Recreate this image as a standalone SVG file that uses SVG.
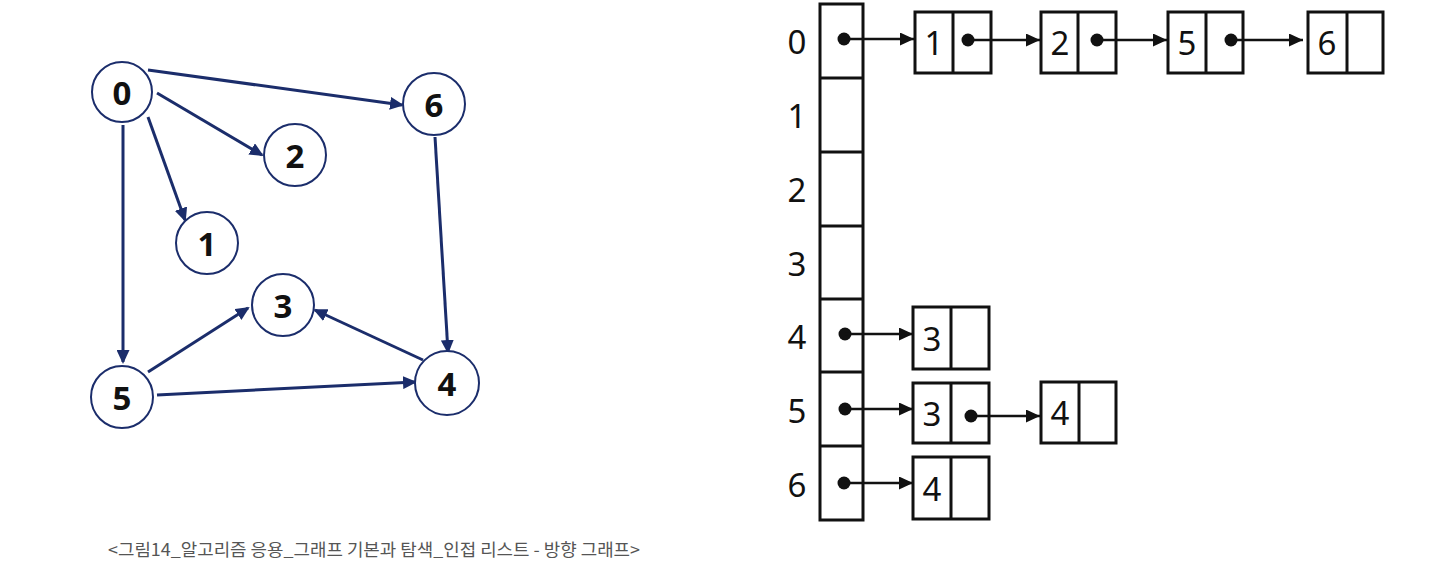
<svg xmlns="http://www.w3.org/2000/svg" width="1429" height="577" viewBox="0 0 1429 577">
<style>
.nc{fill:#fff;stroke:#1b2d6b;stroke-width:2}
.nt{font-family:"Noto Sans","Open Sans",sans-serif;font-weight:bold;font-size:33px;fill:#111;text-anchor:middle;dominant-baseline:central}
.e{stroke:#1b2d6b;stroke-width:3;fill:none}
.bx{fill:#fff;stroke:#111;stroke-width:3}
.lt{font-family:"Noto Sans","Open Sans",sans-serif;font-size:33px;fill:#111;text-anchor:middle;dominant-baseline:central}
.la{stroke:#111;stroke-width:2.5;fill:none}
.dot{fill:#111}
.cap{font-family:"Noto Sans CJK KR","Noto Sans",sans-serif;font-size:17px;fill:#555}
</style>
<defs>
<marker id="ah" markerUnits="userSpaceOnUse" markerWidth="15" markerHeight="13" refX="12" refY="6.5" orient="auto"><path d="M0,0 L14,6.5 L0,13 z" fill="#1b2d6b"/></marker>
<marker id="bh" markerUnits="userSpaceOnUse" markerWidth="15" markerHeight="13" refX="14" refY="6.5" orient="auto"><path d="M0,0 L14,6.5 L0,13 z" fill="#111"/></marker>
</defs>
<rect width="1429" height="577" fill="#fff"/>
<g id="connectors">
<line class="e" x1="148" y1="70" x2="402" y2="105" marker-end="url(#ah)"/>
<line class="e" x1="157" y1="93" x2="262" y2="155" marker-end="url(#ah)"/>
<line class="e" x1="148" y1="117" x2="185" y2="220" marker-end="url(#ah)"/>
<line class="e" x1="123" y1="125" x2="123" y2="362" marker-end="url(#ah)"/>
<line class="e" x1="435" y1="137" x2="448" y2="352" marker-end="url(#ah)"/>
<line class="e" x1="148" y1="372" x2="248" y2="308" marker-end="url(#ah)"/>
<line class="e" x1="423" y1="360" x2="315" y2="310" marker-end="url(#ah)"/>
<line class="e" x1="157" y1="395" x2="415" y2="382" marker-end="url(#ah)"/>
</g>
<g id="node0"><circle class="nc" cx="122" cy="92" r="30"/><text class="nt" x="122" y="92">0</text></g>
<g id="node6"><circle class="nc" cx="434" cy="104" r="31"/><text class="nt" x="434" y="104">6</text></g>
<g id="node2"><circle class="nc" cx="295" cy="155" r="31"/><text class="nt" x="295" y="155">2</text></g>
<g id="node1"><circle class="nc" cx="207" cy="243" r="31"/><text class="nt" x="207" y="243">1</text></g>
<g id="node3"><circle class="nc" cx="283" cy="305" r="31"/><text class="nt" x="283" y="305">3</text></g>
<g id="node5"><circle class="nc" cx="122" cy="397" r="31"/><text class="nt" x="122" y="397">5</text></g>
<g id="node4"><circle class="nc" cx="447" cy="383" r="32"/><text class="nt" x="447" y="383">4</text></g>

<g id="array">
<rect class="bx" x="820" y="4" width="43" height="516"/>
<line class="bx" x1="820" y1="78" x2="863" y2="78"/>
<line class="bx" x1="820" y1="152" x2="863" y2="152"/>
<line class="bx" x1="820" y1="226" x2="863" y2="226"/>
<line class="bx" x1="820" y1="299" x2="863" y2="299"/>
<line class="bx" x1="820" y1="372" x2="863" y2="372"/>
<line class="bx" x1="820" y1="446" x2="863" y2="446"/>
<text class="lt" x="797" y="41">0</text>
<text class="lt" x="797" y="115">1</text>
<text class="lt" x="797" y="189">2</text>
<text class="lt" x="797" y="263">3</text>
<text class="lt" x="797" y="336">4</text>
<text class="lt" x="797" y="410">5</text>
<text class="lt" x="797" y="484">6</text>
</g>

<g id="r0n1"><rect class="bx" x="915" y="12" width="76" height="61"/><line class="bx" x1="953" y1="12" x2="953" y2="73"/><text class="lt" x="934" y="42">1</text></g>
<g id="r0n2"><rect class="bx" x="1041" y="12" width="75" height="61"/><line class="bx" x1="1078" y1="12" x2="1078" y2="73"/><text class="lt" x="1060" y="42">2</text></g>
<g id="r0n5"><rect class="bx" x="1168" y="12" width="75" height="61"/><line class="bx" x1="1206" y1="12" x2="1206" y2="73"/><text class="lt" x="1187" y="42">5</text></g>
<g id="r0n6"><rect class="bx" x="1308" y="12" width="75" height="61"/><line class="bx" x1="1347" y1="12" x2="1347" y2="73"/><text class="lt" x="1327" y="42">6</text></g>
<g id="r4n3"><rect class="bx" x="913" y="307" width="76" height="62"/><line class="bx" x1="951" y1="307" x2="951" y2="369"/><text class="lt" x="932" y="338">3</text></g>
<g id="r5n3"><rect class="bx" x="913" y="383" width="76" height="60"/><line class="bx" x1="951" y1="383" x2="951" y2="443"/><text class="lt" x="932" y="413">3</text></g>
<g id="r5n4"><rect class="bx" x="1041" y="382" width="75" height="61"/><line class="bx" x1="1079" y1="382" x2="1079" y2="443"/><text class="lt" x="1060" y="412">4</text></g>
<g id="r6n4"><rect class="bx" x="913" y="457" width="76" height="62"/><line class="bx" x1="951" y1="457" x2="951" y2="519"/><text class="lt" x="932" y="488">4</text></g>

<g id="list-arrows">
<circle class="dot" cx="844" cy="39" r="6.5"/><line class="la" x1="844" y1="39" x2="914" y2="39" marker-end="url(#bh)"/>
<circle class="dot" cx="968" cy="40" r="6.5"/><line class="la" x1="968" y1="40" x2="1040" y2="40" marker-end="url(#bh)"/>
<circle class="dot" cx="1097" cy="40" r="6.5"/><line class="la" x1="1097" y1="40" x2="1167" y2="40" marker-end="url(#bh)"/>
<circle class="dot" cx="1231" cy="40" r="6.5"/><line class="la" x1="1231" y1="40" x2="1303" y2="40" marker-end="url(#bh)"/>
<circle class="dot" cx="845" cy="334" r="6.5"/><line class="la" x1="845" y1="334" x2="913" y2="334" marker-end="url(#bh)"/>
<circle class="dot" cx="845" cy="409" r="6.5"/><line class="la" x1="845" y1="409" x2="913" y2="409" marker-end="url(#bh)"/>
<circle class="dot" cx="971" cy="416" r="6.5"/><line class="la" x1="971" y1="416" x2="1040" y2="416" marker-end="url(#bh)"/>
<circle class="dot" cx="844" cy="483" r="6.5"/><line class="la" x1="844" y1="483" x2="913" y2="483" marker-end="url(#bh)"/>
</g>

<text class="cap" x="108" y="556" textLength="532" lengthAdjust="spacingAndGlyphs">&lt;그림14_알고리즘 응용_그래프 기본과 탐색_인접 리스트 - 방향 그래프&gt;</text>
</svg>
